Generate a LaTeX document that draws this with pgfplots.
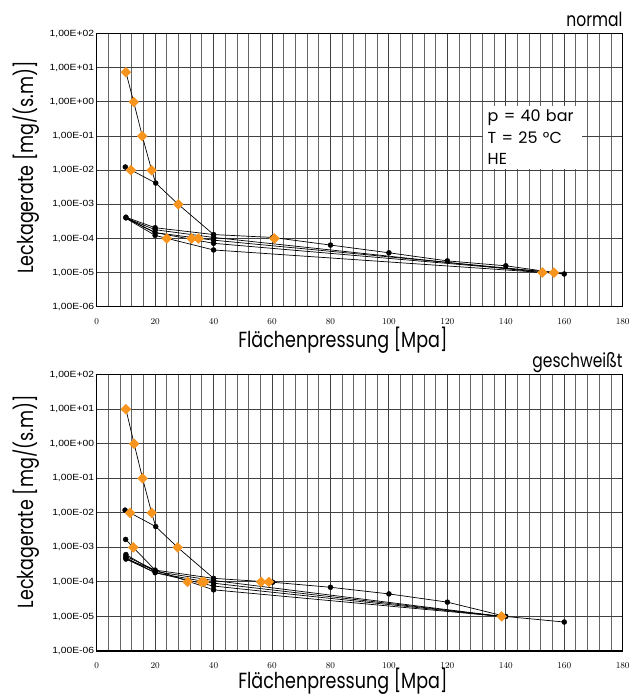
\documentclass[border=0pt]{standalone}
\usepackage{pgfplots}
\pgfplotsset{compat=1.18}
\usepackage{fontspec}
\setmainfont{Liberation Sans}
\newfontfamily\labfont[FakeStretch=0.8]{Poppins}
\newfontfamily\boxfont{Poppins}
\newfontfamily\tickfont[FakeStretch=1.15]{Liberation Sans}
\definecolor{orangeC}{RGB}{247,148,30}

\pgfplotsset{
  lkline/.style={black, line width=0.7bp, no marks},
  lkdot/.style={only marks, mark=*, mark size=2.5bp, mark options={black}},
  lkdia/.style={only marks, mark=square*, mark size=3.5bp, mark options={orangeC, rotate=45}},
}

\begin{document}
\begin{tikzpicture}
\useasboundingbox (0,0) rectangle (642bp,696bp);

% normal
\begin{axis}[
    scale only axis, width=526bp, height=273bp, at={(96.7bp,389.3bp)}, anchor=south west,
    clip mode=individual,
    xmin=0, xmax=180, ymin=1e-6, ymax=1e2, ymode=log,
    xtick={0,20,...,180}, minor xtick={0,4,...,180},
    ytick={1e-6,1e-5,1e-4,1e-3,1e-2,1e-1,1,1e1,1e2},
    yticklabels={{1,00E-06},{1,00E-05},{1,00E-04},{1,00E-03},{1,00E-02},{1,00E-01},{1,00E+00},{1,00E+01},{1,00E+02}},
    xmajorgrids, xminorgrids, ymajorgrids,
    major grid style={black!75, line width=0.9bp},
    minor grid style={black!60, line width=0.9bp},
    axis line style={line width=1.4bp},
    major tick length=0, minor tick length=0,
    tick label style={font=\tickfont\fontsize{9}{9}\selectfont},
    xticklabel style={inner sep=0pt, yshift=-11.5bp},
    yticklabel style={inner sep=0pt, xshift=-2.4bp},
    xlabel={Flächenpressung [Mpa]},
    ylabel={Leckagerate [mg/(s.m)]},
    label style={font=\labfont\fontsize{22}{24}\selectfont},
    xlabel style={at={(axis description cs:0.468,0)}, anchor=base, inner sep=0pt, yshift=-41bp},
    ylabel style={at={(axis description cs:-0.1344,0.51)}, anchor=center, inner sep=0pt},
  ]
\addplot[lkline] coordinates {(10,7.4) (12.66,1) (15.6,0.1) (18.8,0.01) (20.2,4.2e-3)};
\addplot[lkline] coordinates {(9.8,0.0124) (20.2,4.2e-3) (27.9,1e-3) (40,1.3e-4)};
\addplot[lkline] coordinates {(10,4.2e-4) (20,2.06e-4) (40,1.3e-4) (60.2,1.07e-4) (80,6.4e-5) (100,3.8e-5) (120,2.2e-5) (140,1.58e-5) (160,9.1e-6)};
\addplot[lkline] coordinates {(10,4.0e-4) (20,1.8e-4) (40,1.07e-4) (152.5,1e-5)};
\addplot[lkline] coordinates {(10,4.1e-4) (20,1.48e-4) (40,8.9e-5) (156.5,1e-5)};
\addplot[lkline] coordinates {(10,3.9e-4) (20,1.48e-4) (40,7.2e-5) (156.5,1e-5)};
\addplot[lkline] coordinates {(10,3.9e-4) (20,1.23e-4) (40,4.6e-5) (160,9.1e-6)};
\addplot[lkdot] coordinates {(9.8,0.0124) (10,4.2e-4) (10,4.0e-4) (20.2,4.2e-3) (20,2.06e-4) (20,1.8e-4) (20,1.48e-4) (20,1.23e-4)
  (40,1.3e-4) (40,1.07e-4) (40,8.9e-5) (40,7.2e-5) (40,4.6e-5) (60.2,1.07e-4) (80,6.4e-5) (100,3.8e-5) (120,2.2e-5) (140,1.58e-5) (160,9.1e-6)};
\addplot[lkdia] coordinates {(10,7.4) (12.66,1) (15.6,0.1) (18.8,0.01) (11.7,0.01) (27.9,1e-3) (24,1e-4) (32.5,1e-4) (34.8,1e-4) (60.8,1e-4) (152.5,1e-5) (156.5,1e-5)};
\node[fill=white, anchor=north west, inner xsep=4.5bp, inner ysep=4bp, align=left, text width=90bp,
  font=\boxfont\fontsize{16}{21.5}\selectfont] at (axis cs:132.2,0.776) {p = 40 bar\\T = 25 °C\\HE};
\node[anchor=base east, inner sep=0pt, font=\labfont\fontsize{19.5}{20}\selectfont] at (rel axis cs:1,1.028) {normal};
\end{axis}

% geschweisst
\begin{axis}[
    scale only axis, width=526bp, height=276.3bp, at={(96.7bp,45bp)}, anchor=south west,
    clip mode=individual,
    xmin=0, xmax=180, ymin=1e-6, ymax=1e2, ymode=log,
    xtick={0,20,...,180}, minor xtick={0,4,...,180},
    ytick={1e-6,1e-5,1e-4,1e-3,1e-2,1e-1,1,1e1,1e2},
    yticklabels={{1,00E-06},{1,00E-05},{1,00E-04},{1,00E-03},{1,00E-02},{1,00E-01},{1,00E+00},{1,00E+01},{1,00E+02}},
    xmajorgrids, xminorgrids, ymajorgrids,
    major grid style={black!75, line width=0.9bp},
    minor grid style={black!60, line width=0.9bp},
    axis line style={line width=1.4bp},
    major tick length=0, minor tick length=0,
    tick label style={font=\tickfont\fontsize{9}{9}\selectfont},
    xticklabel style={inner sep=0pt, yshift=-11.5bp},
    yticklabel style={inner sep=0pt, xshift=-2.4bp},
    xlabel={Flächenpressung [Mpa]},
    ylabel={Leckagerate [mg/(s.m)]},
    label style={font=\labfont\fontsize{22}{24}\selectfont},
    xlabel style={at={(axis description cs:0.468,0)}, anchor=base, inner sep=0pt, yshift=-37.5bp},
    ylabel style={at={(axis description cs:-0.1344,0.54)}, anchor=center, inner sep=0pt},
  ]
\addplot[lkline] coordinates {(10,10) (12.8,1) (15.7,0.1) (18.8,0.01) (20.2,4e-3)};
\addplot[lkline] coordinates {(9.7,0.012) (20.2,4e-3) (27.7,1e-3) (40,1.27e-4)};
\addplot[lkline] coordinates {(9.9,1.7e-3) (12.5,1e-3) (20,2.2e-4)};
\addplot[lkline] coordinates {(10,5.5e-4) (20,2.2e-4) (40,1.27e-4) (60.2,9.8e-5) (80,7e-5) (100,4.5e-5) (120,2.6e-5) (140,1e-5) (160,6.9e-6)};
\addplot[lkline] coordinates {(10,6.2e-4) (20,2.0e-4) (40,1.1e-4) (138.6,1e-5)};
\addplot[lkline] coordinates {(10,5.0e-4) (20,1.85e-4) (40,9.2e-5) (138.6,1e-5)};
\addplot[lkline] coordinates {(10,4.6e-4) (20,1.85e-4) (40,7.6e-5) (138.6,1e-5)};
\addplot[lkline] coordinates {(10,4.6e-4) (20,2.2e-4) (40,5.9e-5) (138.6,1e-5)};
\addplot[lkdot] coordinates {(9.7,0.012) (9.9,1.7e-3) (10,6.2e-4) (10,5.5e-4) (10,5.0e-4) (10,4.6e-4) (20.2,4e-3) (20,2.2e-4) (20,2.0e-4) (20,1.85e-4)
  (40,1.27e-4) (40,1.1e-4) (40,9.2e-5) (40,7.6e-5) (40,5.9e-5) (60.2,9.8e-5) (80,7e-5) (100,4.5e-5) (120,2.6e-5) (140,1e-5) (160,6.9e-6)};
\addplot[lkdia] coordinates {(10,10) (12.8,1) (15.7,0.1) (18.8,0.01) (11.4,0.01) (12.5,1e-3) (27.7,1e-3) (31.1,1e-4) (35.9,1e-4) (36.8,1e-4) (56.3,1e-4) (58.9,1e-4) (138.6,1e-5)};
\node[anchor=base east, inner sep=0pt, font=\labfont\fontsize{19.5}{20}\selectfont] at (rel axis cs:1,1.025) {geschweißt};
\end{axis}
\end{tikzpicture}
\end{document}
